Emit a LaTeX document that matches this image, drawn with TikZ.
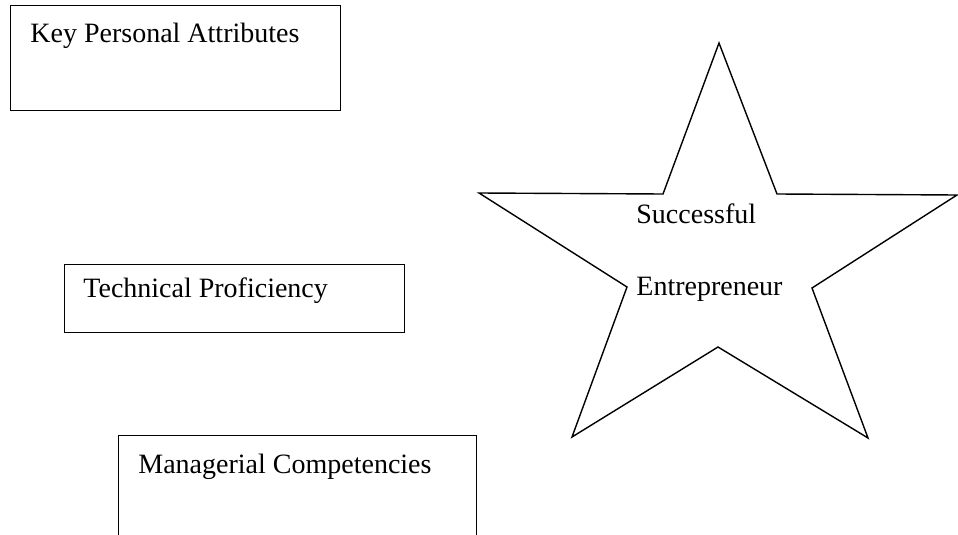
\documentclass[tikz,border=0pt]{standalone}
\usepackage{fontspec}
\setmainfont{Liberation Serif}
\begin{document}
\begin{tikzpicture}[x=0.5pt,y=-0.5pt,
  box/.style={draw=black,line width=0.7pt,rectangle,inner sep=0pt,anchor=north west},
  lbl/.style={font=\fontsize{14}{16}\selectfont,inner sep=0pt,anchor=base west},
  outline/.style={draw=black,line width=0.7pt,line join=miter}]
\useasboundingbox (0,0) rectangle (958,535);
% attribute boxes
\node[box,minimum width=165pt,minimum height=52.5pt] (kpa) at (10,5) {};
\node[lbl] (kpat) at (30,43) {Key Personal Attributes};
\node[box,minimum width=170pt,minimum height=34pt] (tp) at (64,264) {};
\node[lbl] (tpt) at (83,297) {Technical Proficiency};
\node[box,minimum width=179pt,minimum height=60pt] (mc) at (118,435) {};
\node[lbl] (mct) at (138,473) {Managerial Competencies};
% star outline
\coordinate (s1) at (719,43);
\coordinate (s2) at (777,194);
\coordinate (s3) at (957,195);
\coordinate (s4) at (812,288);
\coordinate (s5) at (868,438);
\coordinate (s6) at (718,347);
\coordinate (s7) at (572,437);
\coordinate (s8) at (627,287);
\coordinate (s9) at (479,193);
\coordinate (s10) at (663,194);
\draw[outline] (s1) -- (s2) -- (s3) -- (s4) -- (s5) -- (s6) -- (s7) -- (s8) -- (s9) -- (s10) -- cycle;
\node[lbl] (st1) at (636,223) {Successful};
\node[lbl] (st2) at (636,295) {Entrepreneur};
\end{tikzpicture}
\end{document}
